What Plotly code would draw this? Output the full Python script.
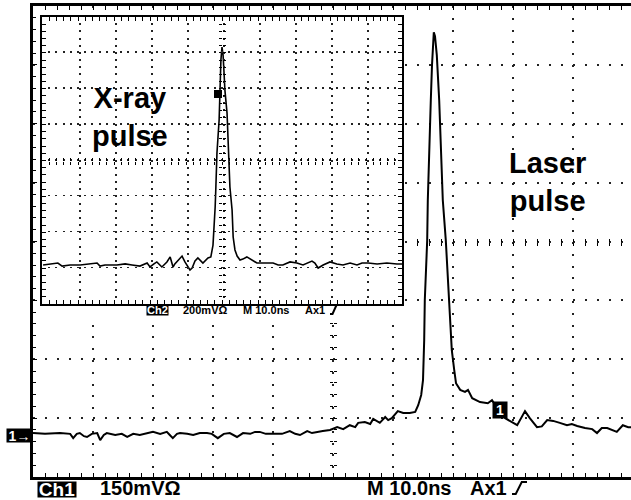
import numpy as np
import plotly.graph_objects as go

# ---- Channel 1: laser pulse (10 ns/div, 150 mV/div, mV above the ground marker) ----
laser_t_ns = [
    0, 2.0, 4.5, 6.2, 6.7, 7.3, 7.8, 8.5, 9.0, 9.8,
    10.7, 11.2, 11.8, 12.3, 13.7, 14.8, 15.7, 16.7, 17.8, 19.0,
    20.0, 21.2, 22.3, 22.8, 23.3, 24.0, 24.5, 25.7, 26.7, 27.8,
    29.0, 29.8, 30.8, 31.8, 32.8, 34.0, 35.0, 36.2, 37.0, 37.8,
    38.8, 40.0, 41.5, 42.8, 43.7, 44.5, 45.7, 46.5, 47.3, 48.3,
    49.5, 50.7, 51.7, 52.8, 53.7, 54.2, 55.3, 56.2, 56.7, 57.8,
    58.7, 59.2, 59.8, 60.8, 61.7, 62.8, 63.7, 64.2, 64.7, 65.0,
    65.2, 65.3, 65.5, 65.7, 65.8, 66.0, 66.3, 66.5, 66.7, 66.8,
    67.0, 67.3, 67.7, 68.0, 68.3, 68.8, 69.0, 69.3, 69.5, 69.8,
    70.2, 70.5, 71.2, 72.0, 72.5, 73.2, 74.5, 75.8, 76.5, 77.5,
    78.7, 79.5, 80.7, 82.0, 82.8, 84.0, 84.8, 85.7, 86.7, 87.8,
    89.0, 89.8, 90.7, 92.0, 93.2, 94.0, 94.8, 95.7, 96.5, 97.3,
    98.3, 99.2, 100,
]
laser_mv = [
    5, 3, 5, 3, -8, 3, 5, -3, -5, 3,
    5, -13, 0, 5, 0, 3, -5, 3, 0, 5,
    8, 3, 8, 0, -8, 3, 5, 3, 0, 5,
    5, 3, -8, 3, 5, -5, 5, 3, 8, 8,
    3, 3, 3, 10, 3, 0, 10, 5, 8, 10,
    13, 20, 15, 25, 20, 31, 33, 28, 41, 31,
    46, 38, 43, 61, 56, 56, 59, 76, 102, 140,
    242, 344, 420, 496, 598, 726, 853, 942, 1006, 1026,
    1016, 968, 853, 726, 598, 496, 446, 344, 293, 216,
    166, 132, 115, 110, 115, 94, 84, 81, 89, 66,
    43, 36, 25, 61, 43, 20, 22, 38, 36, 31,
    25, 28, 23, 18, 15, 5, 18, 18, 13, 8,
    25, 20, 20,
]

# ---- Channel 2: X-ray pulse (10 ns/div, 200 mV/div, mV above baseline) ----
xray_t_ns = [
    0.3, 2.2, 4.4, 5.6, 7.8, 10.6, 12.8, 15.3, 16.1, 17.5,
    20.8, 23.1, 25.0, 27.2, 29.2, 30.0, 31.1, 31.9, 33.3, 34.7,
    35.6, 36.4, 36.9, 37.8, 38.9, 39.7, 41.1, 41.7, 42.5, 43.3,
    44.7, 46.1, 46.9, 47.5, 47.8, 48.1, 48.3, 48.6, 49.2, 49.4,
    49.7, 50.0, 50.3, 50.6, 50.8, 51.4, 51.7, 52.2, 52.8, 53.1,
    53.6, 54.2, 55.0, 55.8, 56.9, 58.3, 59.7, 61.1, 62.5, 64.2,
    65.6, 66.9, 68.9, 70.8, 72.5, 75.0, 75.8, 76.7, 78.1, 80.0,
    81.9, 83.6, 85.6, 87.5, 88.9, 90.6, 93.1, 95.8, 98.6, 100,
]
xray_mv = [
    0, 6, 11, -6, 0, 0, 6, 11, -6, 0,
    0, 6, 0, -6, 11, -11, 6, 17, -11, 17,
    45, -11, 6, 28, 50, 17, -28, -17, 22, 39,
    11, 39, 45, 111, 195, 323, 435, 624, 808, 992,
    1143, 1215, 1171, 1059, 976, 847, 641, 435, 307, 156,
    84, 50, 28, 33, 45, 28, 11, 11, 11, 11,
    0, 0, 17, 11, 0, 22, 11, -17, 0, 17,
    6, 0, 11, 0, 11, 11, 6, 11, 6, 6,
]

# scope settings shown on screen
NS_PER_DIV = 10
CH1_MV_PER_DIV = 150
CH2_MV_PER_DIV = 200
CH1_GROUND_DIV = 0.713   # ground marker height above the bottom graticule line
CH2_GROUND_DIV = 1.087

# ---- page geometry (pixels) ----
W, H = 631, 500
L, T, B = 33, 6, 23
PW, PH = W - L, H - T - B          # plotting area 598 x 471
DIV_X_PX = 60.0                    # main graticule division width


def px_x(x):
    return (x - L) / PW


def px_y(y):
    return (H - B - y) / PH


main_x_range = [0, NS_PER_DIV * PW / DIV_X_PX]
main_y_range = [-CH1_GROUND_DIV * CH1_MV_PER_DIV, (8 - CH1_GROUND_DIV) * CH1_MV_PER_DIV]
ins_x_range = [0, 10 * NS_PER_DIV]
ins_y_range = [-CH2_GROUND_DIV * CH2_MV_PER_DIV, (8 - CH2_GROUND_DIV) * CH2_MV_PER_DIV]


def main_t(px):
    return main_x_range[0] + px_x(px) * (main_x_range[1] - main_x_range[0])


def main_v(py):
    return main_y_range[0] + px_y(py) * (main_y_range[1] - main_y_range[0])


INS_L, INS_R, INS_T, INS_B = 42, 402, 17, 304
ins_dom_x = [px_x(INS_L), px_x(INS_R)]
ins_dom_y = [px_y(INS_B), px_y(INS_T)]

INK = "black"
GRID = "#222222"
FONT = "Liberation Sans, Arial, sans-serif"

fig = go.Figure()
fig.add_trace(go.Scatter(x=laser_t_ns, y=laser_mv, mode="lines",
                         line=dict(color=INK, width=2), hoverinfo="skip"))
fig.add_trace(go.Scatter(x=xray_t_ns, y=xray_mv, mode="lines", xaxis="x2", yaxis="y2",
                         line=dict(color=INK, width=1.6), hoverinfo="skip"))


def frame_axis(rng, tick0, dtick, minor, dash, grid=True, **kw):
    d = dict(range=rng, showgrid=grid, gridcolor=GRID, gridwidth=1.5, griddash=dash,
             tickmode="linear", tick0=tick0, dtick=dtick,
             ticks="inside", ticklen=4, tickwidth=1, tickcolor=INK,
             minor=dict(tickmode="linear", tick0=tick0, dtick=minor, ticks="inside",
                        ticklen=3, tickwidth=1, tickcolor=INK, showgrid=False),
             showline=True, linecolor=INK, showticklabels=False, zeroline=False,
             fixedrange=True)
    d.update(kw)
    return d


def tick_axis(overlay, position, rng, vals, side_ticks, length=3, width=1, color=INK):
    return dict(overlaying=overlay, anchor="free", position=position, range=rng,
                tickmode="array", tickvals=list(vals), ticks=side_ticks, ticklen=length,
                tickwidth=width, tickcolor=color, showticklabels=False, showgrid=False,
                showline=False, zeroline=False, fixedrange=True)


layout_axes = dict(
    xaxis=frame_axis(main_x_range, 0, NS_PER_DIV, NS_PER_DIV / 5, "2px,9.8px",
                     domain=[0, 1], linewidth=2.5, mirror="allticks"),
    yaxis=frame_axis(main_y_range, main_y_range[0], CH1_MV_PER_DIV, CH1_MV_PER_DIV / 5,
                     "2px,10px", domain=[0, 1], linewidth=2.5, mirror=False),
    xaxis2=frame_axis(ins_x_range, 0, NS_PER_DIV, NS_PER_DIV / 5, "2px,5.2px", grid=False,
                      domain=ins_dom_x, anchor="y2", linewidth=2, mirror="allticks"),
    yaxis2=frame_axis(ins_y_range, ins_y_range[0], CH2_MV_PER_DIV, CH2_MV_PER_DIV / 5,
                      "2px,5.2px", grid=False, domain=ins_dom_y, anchor="x2", linewidth=2,
                      mirror="allticks"),
)
axis_pairs = []  # (xaxis id, yaxis id) for the empty traces that activate each tick axis
n_x, n_y = 3, 3


def add_x_ticks(base, base_y, position, rng, vals, side, **kw):
    global n_x
    layout_axes[f"xaxis{n_x}"] = tick_axis(base, position, rng, vals, side, **kw)
    axis_pairs.append((f"x{n_x}", base_y))
    n_x += 1


def add_y_ticks(base, base_x, position, rng, vals, side, **kw):
    global n_y
    layout_axes[f"yaxis{n_y}"] = tick_axis(base, position, rng, vals, side, **kw)
    axis_pairs.append((base_x, f"y{n_y}"))
    n_y += 1


# crossing ticks on the main centre lines, only where the inset doesn't cover them
mx_vals = [v for v in np.arange(0, main_x_range[1], NS_PER_DIV / 5) if v > main_t(405)]
my_vals = [v for v in main_y_range[0] + CH1_MV_PER_DIV / 5 * np.arange(1, 40) if v < main_v(320)]
main_cx = (5 * NS_PER_DIV) / main_x_range[1]
for side in ("inside", "outside"):
    add_x_ticks("x", "y", 0.5, main_x_range, mx_vals, side)
    add_y_ticks("y", "x", main_cx, main_y_range, my_vals, side)

# Ch2 graticule: dotted division lines drawn as rows of short marks
ix_vals = np.arange(NS_PER_DIV / 5, 100, NS_PER_DIV / 5)
iy_vals = ins_y_range[0] + (CH2_MV_PER_DIV / 5) * np.arange(1, 40)
ins_h = ins_dom_y[1] - ins_dom_y[0]
ins_w = ins_dom_x[1] - ins_dom_x[0]
for k in range(1, 8):
    add_x_ticks("x2", "y2", ins_dom_y[0] + ins_h * k / 8, ins_x_range, ix_vals, "inside",
                length=1.5, width=1.6, color=GRID)
for k in range(1, 10):
    add_y_ticks("y2", "x2", ins_dom_x[0] + ins_w * k / 10, ins_y_range, iy_vals, "inside",
                length=1.5, width=1.6, color=GRID)

# crossing ticks on the Ch2 centre lines
ins_cx = ins_dom_x[0] + ins_w / 2
ins_cy = ins_dom_y[0] + ins_h / 2
for side in ("inside", "outside"):
    add_x_ticks("x2", "y2", ins_cy, ins_x_range, ix_vals, side)
    add_y_ticks("y2", "x2", ins_cx, ins_y_range, iy_vals, side)

for xa, ya in axis_pairs:
    fig.add_trace(go.Scatter(x=[], y=[], xaxis=xa, yaxis=ya, mode="lines",
                             showlegend=False, hoverinfo="skip"))

fig.update_layout(
    width=W, height=H, autosize=False,
    margin=dict(l=L, r=0, t=T, b=B, pad=0),
    paper_bgcolor="white", plot_bgcolor="white",
    showlegend=False,
    **layout_axes,
)

# white inset panel hides the main graticule behind the Ch2 display
fig.add_shape(type="rect", xref="x", yref="y", layer="between",
              x0=main_t(40), x1=main_t(405), y0=main_v(320), y1=main_v(15),
              fillcolor="white", line=dict(width=0))

# Ch2 trigger level marker
fig.add_shape(type="rect", xref="paper", yref="paper",
              x0=px_x(214), x1=px_x(222), y0=px_y(98), y1=px_y(90),
              fillcolor=INK, line=dict(width=0))


def slope_path(x, y, w, h):
    pts = [(x, y + h), (x + 0.25 * w, y + h), (x + 0.65 * w, y), (x + w, y)]
    return "M " + " L ".join(f"{px_x(a):.5f},{px_y(b):.5f}" for a, b in pts)


for sx, sy, sw, sh in [(512, 482, 15, 12), (330, 305, 10, 9)]:
    fig.add_shape(type="path", xref="paper", yref="paper", path=slope_path(sx, sy, sw, sh),
                  line=dict(color=INK, width=2))


def label(text, x, y, size, xanchor="left", color=INK, bg=None, w=None, h=None, yref="paper"):
    fig.add_annotation(
        text=text, xref="paper", yref=yref, x=px_x(x),
        y=px_y(y) if yref == "paper" else y,
        xanchor=xanchor, yanchor="middle", showarrow=False,
        font=dict(family=FONT, size=size, color=color),
        bgcolor=bg, borderpad=0, width=w, height=h, align="center")


label("<b>X-ray<br>pulse</b>", 91, 117, 29)
label("<b>Laser<br>pulse</b>", 508, 182, 29)

# channel ground marker and trigger position marker
label("<b>1→</b>", 19.5, 0, 14, xanchor="center", color="white", bg=INK, w=25, h=13, yref="y")
label("<b>1</b>", 500, 410, 14, xanchor="center", color="white", bg=INK, w=14, h=16)

# main readout line
label("<b>Ch1</b>", 57, 489, 19, xanchor="center", color="white", bg=INK, w=38, h=15)
label("<b>150mVΩ</b>", 99, 488, 20)
label("<b>M 10.0ns</b>", 366, 488, 20)
label("<b>Ax1</b>", 469, 488, 20)

# inset readout line
label("<b>Ch2</b>", 157.5, 310, 11, xanchor="center", color="white", bg=INK, w=21, h=10)
label("<b>200mVΩ</b>", 182, 310, 11)
label("<b>M 10.0ns</b>", 242, 310, 11)
label("<b>Ax1</b>", 304, 310, 11)

fig.write_html("out.html")
